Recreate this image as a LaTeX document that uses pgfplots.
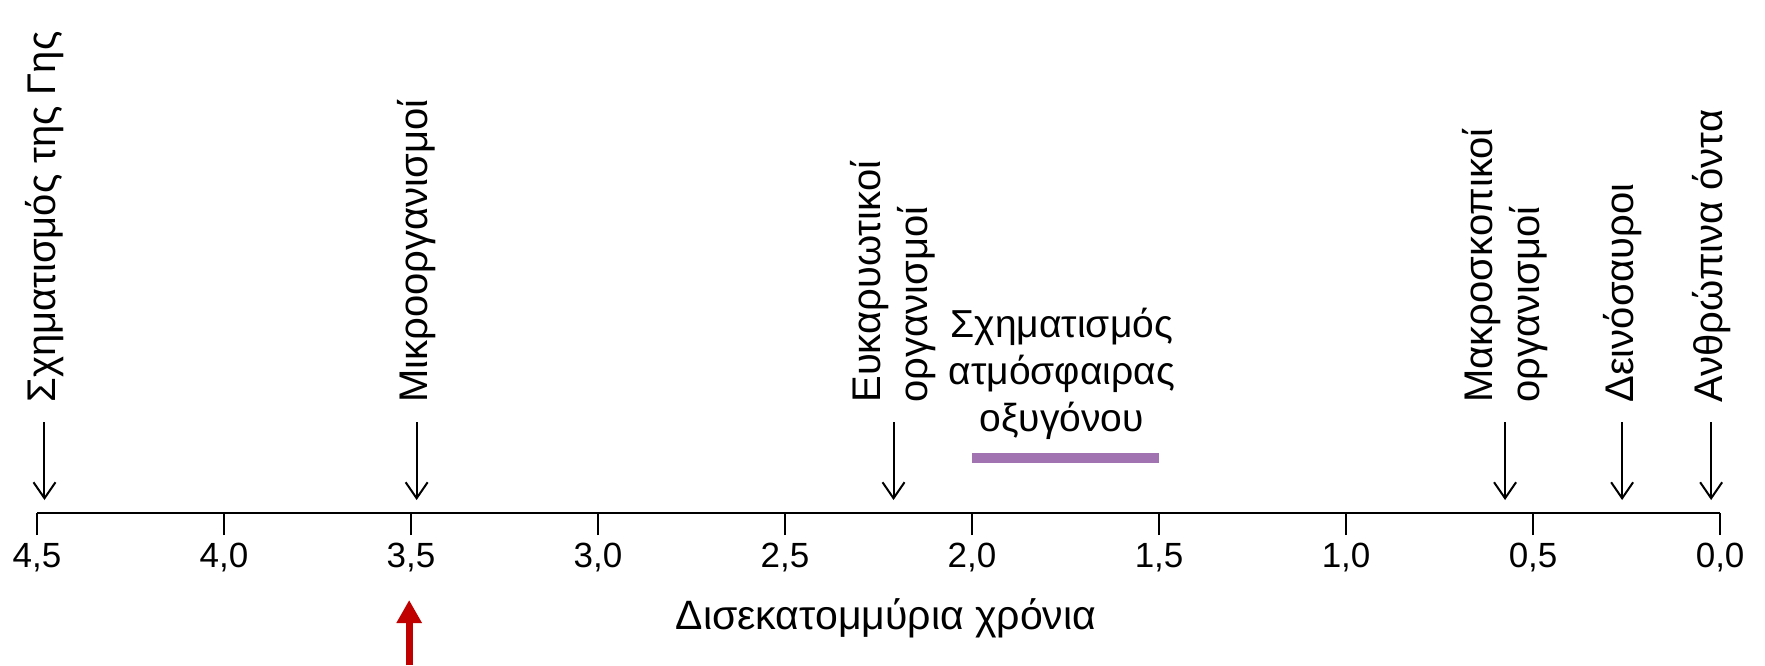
\documentclass[border=0pt]{standalone}
\usepackage{fontspec}
\setmainfont{Liberation Sans}
\usepackage{pgfplots}
\pgfplotsset{compat=1.18}
\usetikzlibrary{arrows.meta}
\definecolor{oxbar}{RGB}{161,115,176}
\definecolor{darkred}{RGB}{192,0,0}

\tikzset{
  evarrow/.style={black, line width=1pt, -{Straight Barb[length=8pt,width=11pt]}},
  evlabel/.style={rotate=90, anchor=west, inner sep=0pt, align=left,
    font=\fontsize{20}{23.5}\selectfont},
}

\begin{document}
\begin{tikzpicture}
\begin{axis}[
  scale only axis, width=841.5pt, height=256.5pt,
  xmin=0, xmax=4.5, ymin=0, ymax=513,
  x dir=reverse,
  axis x line=bottom, axis y line=none,
  axis line style={-, line width=1.3pt},
  xtick={0,0.5,1,1.5,2,2.5,3,3.5,4,4.5},
  tick align=outside, major tick length=11pt,
  xtick style={line width=1.3pt, black},
  xticklabel style={font=\fontsize{17.5}{20}\selectfont, inner sep=0pt, anchor=north, yshift=-4pt},
  /pgf/number format/use comma,
  /pgf/number format/fixed,
  /pgf/number format/fixed zerofill,
  /pgf/number format/precision=1,
  /pgf/number format/assume math mode=true,
  xlabel={Δισεκατομμύρια χρόνια},
  xlabel style={at={(axis description cs:0.5,0)}, anchor=base, yshift=-58pt, xshift=3.75pt,
    font=\fontsize{20.5}{23}\selectfont, inner sep=0pt},
  clip=false,
]

% events: arrows from y=91 down to y=13 (axis line at 0)
\addplot[evarrow] coordinates {(4.48,91) (4.48,13)};
\node[evlabel] at (axis cs:4.48,110) {Σχηματισμός της Γης};

\addplot[evarrow] coordinates {(3.485,91) (3.485,13)};
\node[evlabel] at (axis cs:3.485,110) {Μικροοργανισμοί};

\addplot[evarrow] coordinates {(2.21,91) (2.21,13)};
\node[evlabel] at (axis cs:2.21,110) {Ευκαρυωτικοί\\οργανισμοί};

\addplot[evarrow] coordinates {(0.575,91) (0.575,13)};
\node[evlabel] at (axis cs:0.575,110) {Μακροσκοπικοί\\οργανισμοί};

\addplot[evarrow] coordinates {(0.262,91) (0.262,13)};
\node[evlabel] at (axis cs:0.262,110) {Δεινόσαυροι};

\addplot[evarrow] coordinates {(0.024,91) (0.024,13)};
\node[evlabel] at (axis cs:0.024,110) {Ανθρώπινα όντα};

% oxygen atmosphere period
\addplot[oxbar, line width=5pt] coordinates {(2.0,55) (1.5,55)};
\node[anchor=south, inner sep=0pt, align=center, font=\fontsize{19.5}{23.5}\selectfont]
  at (axis cs:1.76,73) {Σχηματισμός\\ατμόσφαιρας\\οξυγόνου};

% red pointer under 3,5
\addplot[darkred, line width=3.5pt, -{Triangle[length=11.5pt,width=12pt]}]
  coordinates {(3.505,-152) (3.505,-87)};

\coordinate (bbl) at (axis cs:4.599,-152);
\coordinate (btr) at (axis cs:-0.120,513);
\end{axis}
\pgfresetboundingbox
\useasboundingbox (bbl) rectangle (btr);
\end{tikzpicture}
\end{document}
